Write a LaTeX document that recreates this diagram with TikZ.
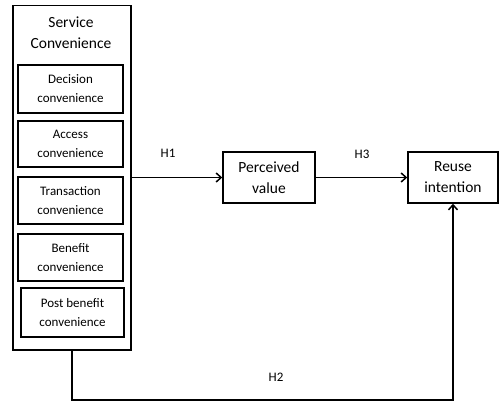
\documentclass[tikz,border=0pt]{standalone}
\usepackage{fontspec}
\setmainfont{Carlito}
\usetikzlibrary{arrows.meta,shadows}
\begin{document}
\begin{tikzpicture}[x=1pt,y=-1pt,
  box/.style={draw=black,line width=1.5pt,fill=white,
    drop shadow={shadow xshift=0.9pt,shadow yshift=-0.9pt,opacity=0.7,fill=black}},
  conn/.style={line width=1.5pt,-{Straight Barb[length=5pt,width=9pt]}},
  lbl/.style={font=\fontsize{13}{15}\selectfont},
  inner/.style={font=\fontsize{13}{19}\selectfont,align=center},
  big/.style={font=\fontsize{15.5}{21}\selectfont,align=center}]
\useasboundingbox (0,0) rectangle (501,406);
% outer group
\node[box,minimum width=118pt,minimum height=344pt,anchor=north west,inner sep=0pt] (sc) at (12,5) {};
\node[big] (sct) at (71,33) {Service\\Convenience};
% dimensions
\node[box,minimum width=105pt,minimum height=48pt,inner sep=0pt,inner] (d1) at (70.5,89) {Decision\\convenience};
\node[box,minimum width=105pt,minimum height=46pt,inner sep=0pt,inner] (d2) at (70.5,144) {Access\\convenience};
\node[box,minimum width=105pt,minimum height=47pt,inner sep=0pt,inner] (d3) at (70.5,200.5) {Transaction\\convenience};
\node[box,minimum width=105pt,minimum height=47pt,inner sep=0pt,inner] (d4) at (70.5,257.5) {Benefit\\convenience};
\node[box,minimum width=103pt,minimum height=49pt,inner sep=0pt,inner] (d5) at (72.5,312.5) {Post benefit\\convenience};
% outcomes
\node[box,minimum width=92pt,minimum height=51pt,inner sep=0pt,big] (pv) at (269,177.5) {Perceived\\value};
\node[box,minimum width=90pt,minimum height=51pt,inner sep=0pt,big] (ri) at (453,177.5) {Reuse\\intention};
% paths
\draw[conn] (sc.east |- pv.west) -- (pv.west);
\draw[conn] (pv.east) -- (ri.west);
\coordinate (c1) at (72,400);
\coordinate (c2) at (453,400);
\draw[conn] (sc.south -| c1) -- (c1) -- (c2) -- (ri.south);
\node[lbl] (h1) at (168,153) {H1};
\node[lbl] (h3) at (362,154) {H3};
\node[lbl] (h2) at (276,377) {H2};
\end{tikzpicture}
\end{document}
